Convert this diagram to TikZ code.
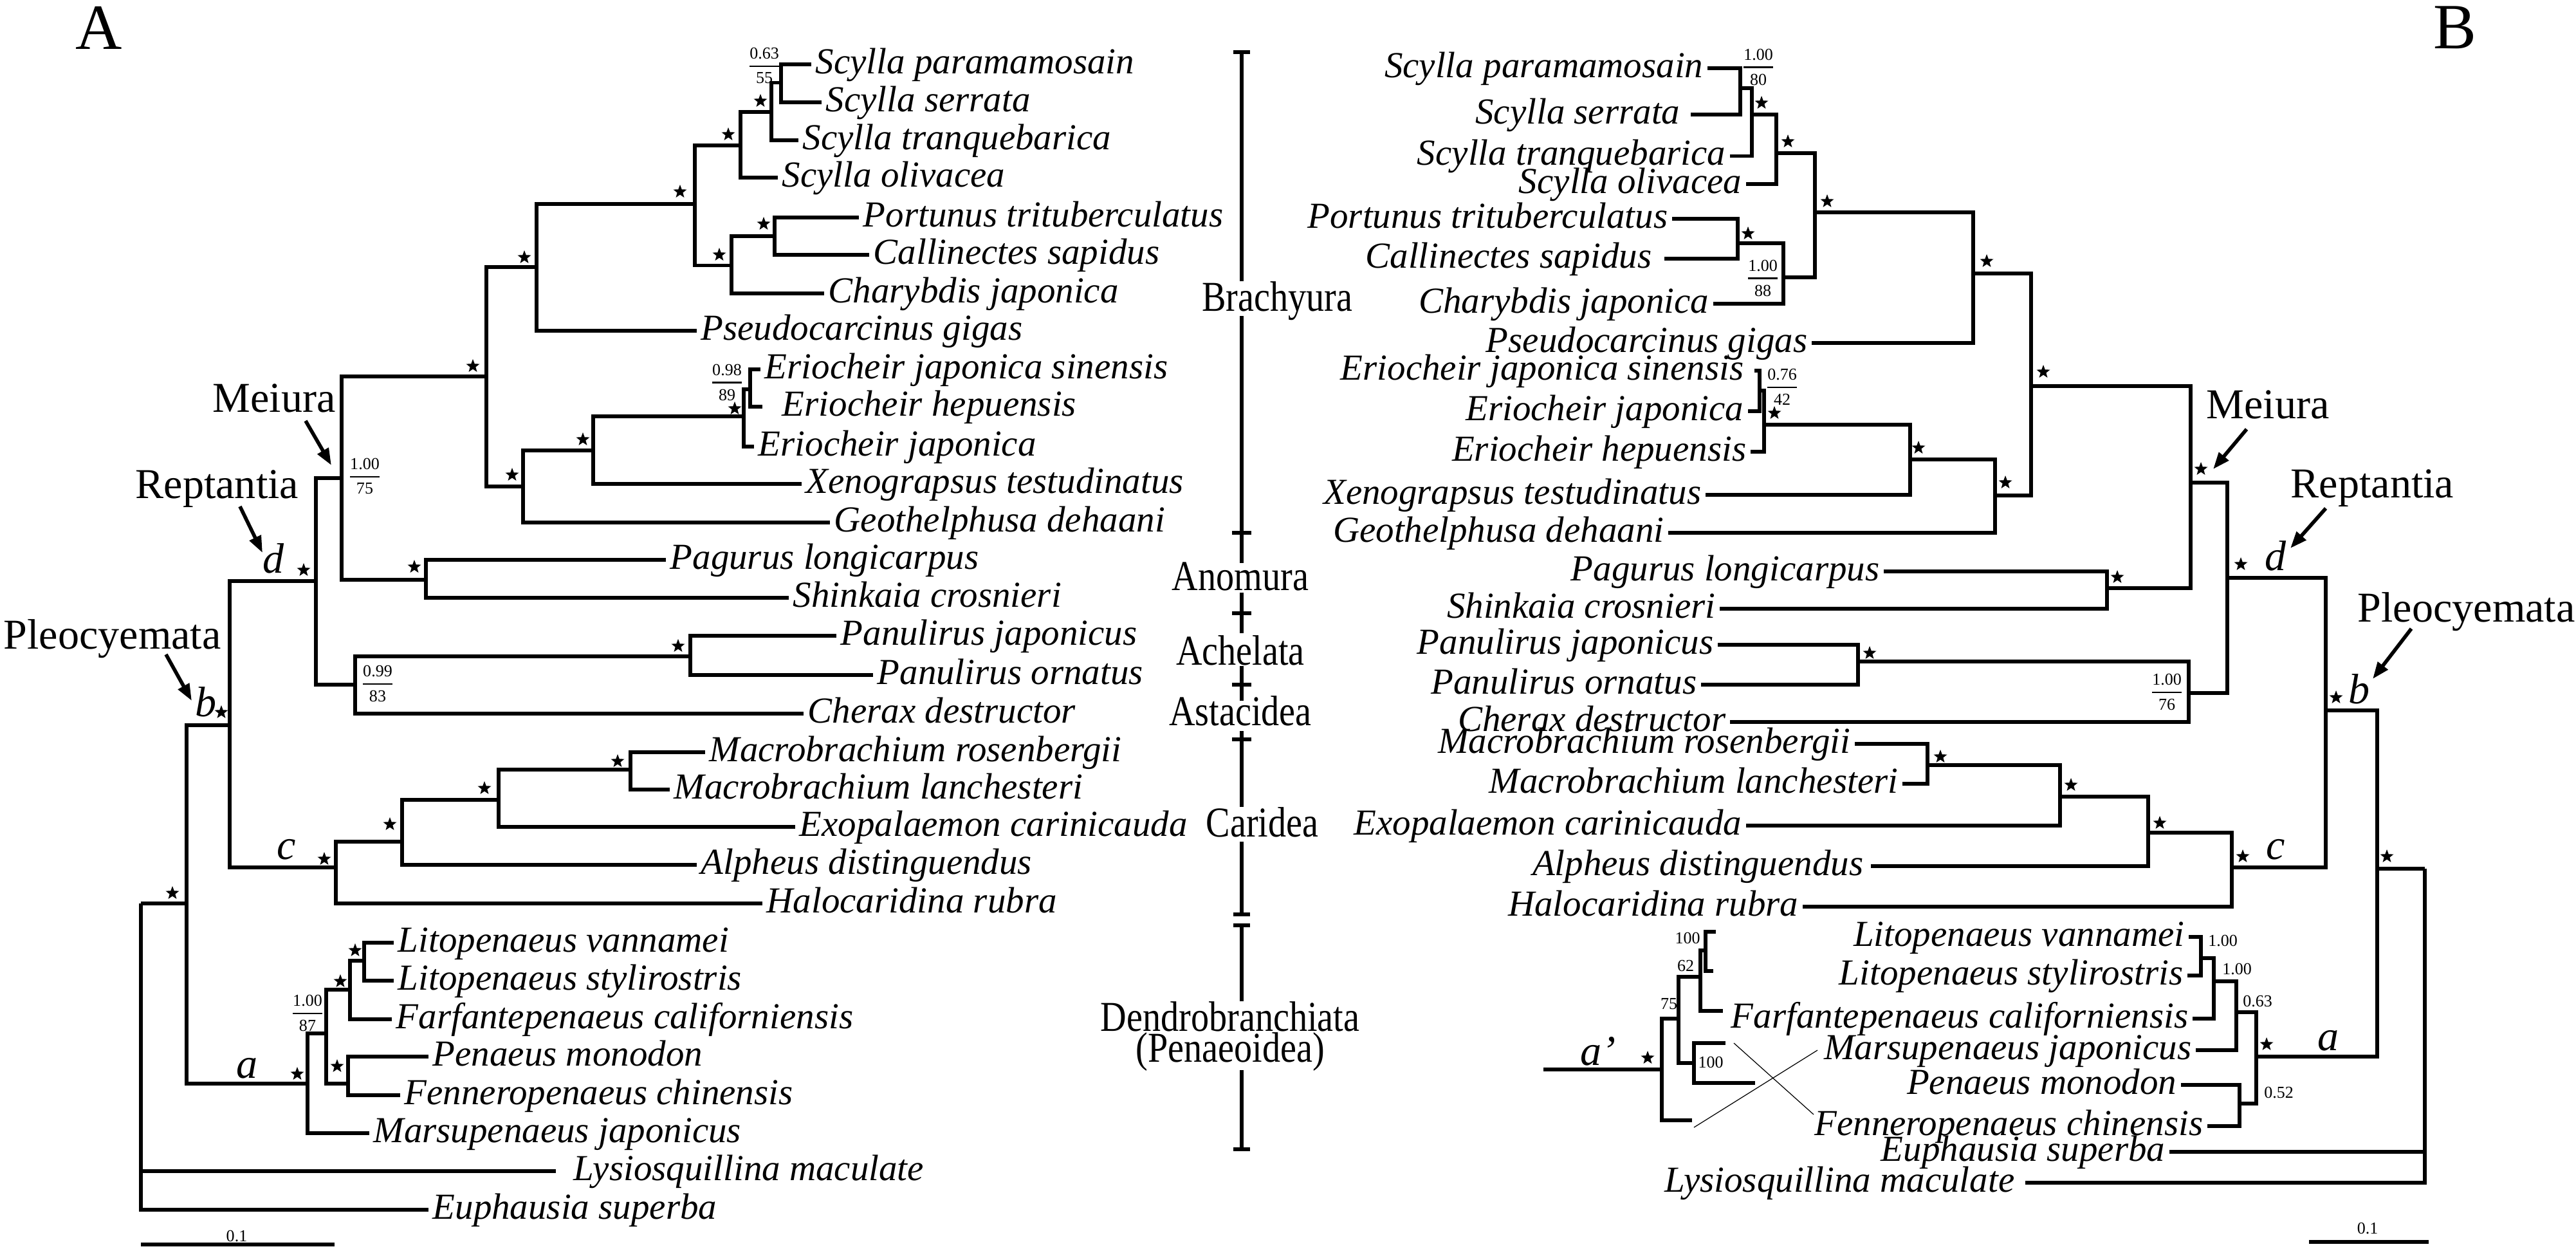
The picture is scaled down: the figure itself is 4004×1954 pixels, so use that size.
\documentclass[tikz,border=0pt]{standalone}
\usepackage{amsmath}
\usepackage{fontspec}
\setmainfont{Liberation Serif}
\newfontfamily\CondFam[FakeStretch=0.85]{Liberation Serif}
\usetikzlibrary{shapes.geometric,arrows.meta}
\newcommand{\SpF}{\fontsize{16.2pt}{18pt}\selectfont\itshape}
\newcommand{\ClF}{\fontsize{18.8pt}{20pt}\selectfont}
\newcommand{\GrF}{\CondFam\fontsize{18.8pt}{13.7pt}\selectfont}
\newcommand{\PanF}{\fontsize{28.5pt}{30pt}\selectfont}
\newcommand{\NumF}{\fontsize{7.4pt}{8pt}\selectfont}
\newcommand{\Fr}[2]{$\genfrac{}{}{0.8pt}{0}{\mbox{#1}}{\mbox{#2}}$}
\tikzset{
 br/.style={line width=1.5pt},
 thinl/.style={line width=0.35pt},
 lfL/.style={anchor=west, font=\SpF, inner xsep=0.06cm, inner ysep=0pt, text height=0.34cm, text depth=0.06cm},
 lfR/.style={anchor=east, font=\SpF, inner xsep=0.06cm, inner ysep=0pt, text height=0.34cm, text depth=0.06cm},
 strm/.style={star, star points=5, star point ratio=2.4, fill=black, inner sep=0pt, minimum size=0.22cm},
 clade/.style={anchor=base west, font=\ClF, inner sep=0pt},
 grp/.style={anchor=base, font=\GrF, inner sep=0pt, align=center},
 ltr/.style={anchor=base west, font=\ClF\itshape, inner sep=0pt},
 numlab/.style={font=\NumF, inner sep=0pt},
 arr/.style={line width=1.6pt, -{Triangle[length=0.26cm,width=0.19cm]}},
}
\begin{document}
\begin{tikzpicture}[x=0.01cm, y=-0.01cm]
\useasboundingbox (0,0) rectangle (4004,1954);
% panel labels
\node[anchor=base west, font=\PanF, inner sep=0pt] (pA) at (117,76) {A};
\node[anchor=base west, font=\PanF, inner sep=0pt] (pB) at (3782,75) {B};

% ================= TREE A =================
\node[lfL] (a1) at (1261,100) {Scylla paramamosain};
\node[lfL] (a2) at (1277,159) {Scylla serrata};
\node[lfL] (a3) at (1241,218) {Scylla tranquebarica};
\node[lfL] (a4) at (1209,276) {Scylla olivacea};
\node[lfL] (a5) at (1335,338) {Portunus trituberculatus};
\node[lfL] (a6) at (1351,396) {Callinectes sapidus};
\node[lfL] (a7) at (1281,456) {Charybdis japonica};
\node[lfL] (a8) at (1083,514) {Pseudocarcinus gigas};
\node[lfL] (a9) at (1182,574) {Eriocheir japonica sinensis};
\node[lfL, inner xsep=0.3cm] (a10) at (1185,632) {Eriocheir hepuensis};
\node[lfL] (a11) at (1172,694) {Eriocheir japonica};
\node[lfL] (a12) at (1246,752) {Xenograpsus testudinatus};
\node[lfL] (a13) at (1290,812) {Geothelphusa dehaani};
\node[lfL] (a14) at (1035,870) {Pagurus longicarpus};
\node[lfL] (a15) at (1226,929) {Shinkaia crosnieri};
\node[lfL] (a16) at (1300,988) {Panulirus japonicus};
\node[lfL] (a17) at (1357,1049) {Panulirus ornatus};
\node[lfL] (a18) at (1249,1109) {Cherax destructor};
\node[lfL] (a19) at (1096,1169) {Macrobrachium rosenbergii};
\node[lfL] (a20) at (1041,1227) {Macrobrachium lanchesteri};
\node[lfL] (a21) at (1236,1285) {Exopalaemon carinicauda};
\node[lfL] (a22) at (1083,1344) {Alpheus distinguendus};
\node[lfL] (a23) at (1185,1404) {Halocaridina rubra};
\node[lfL] (a24) at (612,1465) {Litopenaeus vannamei};
\node[lfL] (a25) at (612,1524) {Litopenaeus stylirostris};
\node[lfL] (a26) at (609,1584) {Farfantepenaeus californiensis};
\node[lfL] (a27) at (666,1642) {Penaeus monodon};
\node[lfL] (a28) at (622,1702) {Fenneropenaeus chinensis};
\node[lfL] (a29) at (574,1761) {Marsupenaeus japonicus};
\node[lfL, inner xsep=0.27cm] (a30) at (864,1820) {Lysiosquillina maculate};
\node[lfL] (a31) at (666,1880) {Euphausia superba};

\coordinate (aSS) at (1214,128.5);
\coordinate (aS3) at (1199,174);
\coordinate (aS4) at (1151,226);
\coordinate (aPC) at (1204,367);
\coordinate (aPCC) at (1137,412.5);
\coordinate (aPort) at (1080,317);
\coordinate (aBr1) at (834,415);
\coordinate (aEsh) at (1166,605);
\coordinate (aEri) at (1156,647);
\coordinate (aEX) at (922,700);
\coordinate (aEXG) at (813,756);
\coordinate (aBra) at (756,585);
\coordinate (aAno) at (662,901);
\coordinate (aMei) at (531,743);
\coordinate (aPan) at (1073,1020);
\coordinate (aAA) at (552,1064);
\coordinate (aRep) at (491,903);
\coordinate (aMac) at (980,1196);
\coordinate (aMacE) at (775,1243);
\coordinate (aMEA) at (625,1308);
\coordinate (aCar) at (522,1348);
\coordinate (aPle) at (357,1127);
\coordinate (aLit) at (566,1493);
\coordinate (aLitF) at (544,1538);
\coordinate (aPF) at (541,1684);
\coordinate (aPen5) at (507,1606);
\coordinate (aPen) at (478,1684);
\coordinate (aDec) at (290,1404);
\coordinate (aRoot) at (219,1404);

\draw[br] (aSS) |- (a1.west) (aSS) |- (a2.west)
 (aS3) |- (aSS) (aS3) |- (a3.west)
 (aS4) |- (aS3) (aS4) |- (a4.west)
 (aPC) |- (a5.west) (aPC) |- (a6.west)
 (aPCC) |- (aPC) (aPCC) |- (a7.west)
 (aPort) |- (aS4) (aPort) |- (aPCC)
 (aBr1) |- (aPort) (aBr1) |- (a8.west)
 (aEsh) |- (a9.west) (aEsh) |- (a10.west)
 (aEri) |- (aEsh) (aEri) |- (a11.west)
 (aEX) |- (aEri) (aEX) |- (a12.west)
 (aEXG) |- (aEX) (aEXG) |- (a13.west)
 (aBra) |- (aBr1) (aBra) |- (aEXG)
 (aAno) |- (a14.west) (aAno) |- (a15.west)
 (aMei) |- (aBra) (aMei) |- (aAno)
 (aPan) |- (a16.west) (aPan) |- (a17.west)
 (aAA) |- (aPan) (aAA) |- (a18.west)
 (aRep) |- (aMei) (aRep) |- (aAA)
 (aMac) |- (a19.west) (aMac) |- (a20.west)
 (aMacE) |- (aMac) (aMacE) |- (a21.west)
 (aMEA) |- (aMacE) (aMEA) |- (a22.west)
 (aCar) |- (aMEA) (aCar) |- (a23.west)
 (aPle) |- (aRep) (aPle) |- (aCar)
 (aLit) |- (a24.west) (aLit) |- (a25.west)
 (aLitF) |- (aLit) (aLitF) |- (a26.west)
 (aPF) |- (a27.west) (aPF) |- (a28.west)
 (aPen5) |- (aLitF) (aPen5) |- (aPF)
 (aPen) |- (aPen5) (aPen) |- (a29.west)
 (aDec) |- (aPle) (aDec) |- (aPen)
 (aRoot) -- (aDec) (aRoot) |- (a30.west) (aRoot) |- (a31.west);

% stars A
\node[strm] (sa1) at (1182,157) {};
\node[strm] (sa2) at (1132,209) {};
\node[strm] (sa3) at (1057,298) {};
\node[strm] (sa4) at (1187,348) {};
\node[strm] (sa5) at (1118,396) {};
\node[strm] (sa6) at (815,400) {};
\node[strm] (sa7) at (735,569) {};
\node[strm] (sa8) at (1142,635) {};
\node[strm] (sa9) at (906,683) {};
\node[strm] (sa10) at (796,738) {};
\node[strm] (sa11) at (644,881) {};
\node[strm] (sa12) at (1054,1004) {};
\node[strm] (sa13) at (472,886) {};
\node[strm] (sa14) at (344,1107) {};
\node[strm] (sa15) at (960,1183) {};
\node[strm] (sa16) at (753,1225) {};
\node[strm] (sa17) at (606,1281) {};
\node[strm] (sa18) at (504,1335) {};
\node[strm] (sa19) at (268,1388) {};
\node[strm] (sa20) at (552,1477) {};
\node[strm] (sa21) at (529,1525) {};
\node[strm] (sa22) at (524,1657) {};
\node[strm] (sa23) at (462,1669) {};

% support values A
\node[numlab] (f1) at (1188,102) {\Fr{0.63}{55}};
\node[numlab] (f2) at (1130,594) {\Fr{0.98}{89}};
\node[numlab] (f3) at (567,740) {\Fr{1.00}{75}};
\node[numlab] (f4) at (587,1062) {\Fr{0.99}{83}};
\node[numlab] (f5) at (478,1574) {\Fr{1.00}{87}};

% clade names and node letters A
\node[clade] (lMeiA) at (330,640) {Meiura};
\node[clade] (lRepA) at (210,774) {Reptantia};
\node[clade] (lPleA) at (5,1008) {Pleocyemata};
\node[ltr] (ldA) at (408,890) {d};
\node[ltr] (lbA) at (303,1113) {b};
\node[ltr] (lcA) at (430,1335) {c};
\node[ltr] (laA) at (367,1675) {a};
\coordinate (mA1) at (475,654); \coordinate (mA2) at (515,723);
\coordinate (rA1) at (373,787); \coordinate (rA2) at (408,859);
\coordinate (pA1) at (258,1017); \coordinate (pA2) at (298,1089);
\draw[arr] (mA1) -- (mA2);
\draw[arr] (rA1) -- (rA2);
\draw[arr] (pA1) -- (pA2);

% scale bar A
\coordinate (scA1) at (219,1934); \coordinate (scA2) at (520,1934);
\draw[br] (scA1) -- (scA2);
\node[numlab] (scAl) at (368,1921) {0.1};

% ================= MIDDLE BRACKETS =================
\draw[br] (1917,81) -- (1943,81) (1930,81) -- (1930,437);
\draw[br] (1930,491) -- (1930,875) (1915,828) -- (1945,828);
\draw[br] (1930,921) -- (1930,984) (1915,953) -- (1945,953);
\draw[br] (1930,1035) -- (1930,1089) (1915,1064) -- (1945,1064);
\draw[br] (1930,1136) -- (1930,1254) (1915,1149) -- (1945,1149);
\draw[br] (1930,1308) -- (1930,1421) (1917,1421) -- (1943,1421);
\draw[br] (1917,1438) -- (1943,1438) (1930,1438) -- (1930,1556);
\draw[br] (1930,1663) -- (1930,1786) (1917,1786) -- (1943,1786);
\node[grp] (gBr) at (1985,483) {Brachyura};
\node[grp] (gAn) at (1928,917) {Anomura};
\node[grp] (gAc) at (1928,1033) {Achelata};
\node[grp] (gAs) at (1928,1127) {Astacidea};
\node[grp] (gCa) at (1962,1300) {Caridea};
\node[grp, anchor=north] (gDe) at (1912,1556) {Dendrobranchiata\\(Penaeoidea)};

% ================= TREE B =================
\node[lfR] (b1) at (2654,106) {Scylla paramamosain};
\node[lfR, inner xsep=0.16cm] (b2) at (2628,178) {Scylla serrata};
\node[lfR] (b3) at (2689,242.5) {Scylla tranquebarica};
\node[lfR] (b4) at (2714,286) {Scylla olivacea};
\node[lfR] (b5) at (2599,340) {Portunus trituberculatus};
\node[lfR, inner xsep=0.19cm] (b6) at (2587,402) {Callinectes sapidus};
\node[lfR] (b7) at (2663,472) {Charybdis japonica};
\node[lfR] (b8) at (2816,533) {Pseudocarcinus gigas};
\node[lfR, inner xsep=0.16cm] (b9) at (2727,576) {Eriocheir japonica sinensis};
\node[lfR] (b10) at (2717,639) {Eriocheir japonica};
\node[lfR] (b11) at (2721,702) {Eriocheir hepuensis};
\node[lfR] (b12) at (2651,769) {Xenograpsus testudinatus};
\node[lfR] (b13) at (2593,828) {Geothelphusa dehaani};
\node[lfR] (b14) at (2928,888) {Pagurus longicarpus};
\node[lfR] (b15) at (2673,946) {Shinkaia crosnieri};
\node[lfR] (b16) at (2670,1002) {Panulirus japonicus};
\node[lfR] (b17) at (2644,1064) {Panulirus ornatus};
\node[lfR] (b18) at (2689,1122) {Cherax destructor};
\node[lfR] (b19) at (2883,1156) {Macrobrachium rosenbergii};
\node[lfR] (b20) at (2957,1218) {Macrobrachium lanchesteri};
\node[lfR] (b21) at (2714,1283) {Exopalaemon carinicauda};
\node[lfR, inner xsep=0.11cm] (b22) at (2908,1346) {Alpheus distinguendus};
\node[lfR] (b23) at (2802,1409) {Halocaridina rubra};
\node[lfR] (b24) at (3402,1456) {Litopenaeus vannamei};
\node[lfR] (b25) at (3400,1516) {Litopenaeus stylirostris};
\node[lfR] (b26) at (3408,1583) {Farfantepenaeus californiensis};
\node[lfR] (b27) at (3413,1632) {Marsupenaeus japonicus};
\node[lfR] (b28) at (3390,1686) {Penaeus monodon};
\node[lfR] (b29) at (3431,1750) {Fenneropenaeus chinensis};
\node[lfR] (b30) at (3372,1790) {Euphausia superba};
\node[lfR, inner xsep=0.16cm] (b31) at (3148,1838) {Lysiosquillina maculate};

\coordinate (bSS) at (2705,137);
\coordinate (bS3) at (2723,178);
\coordinate (bS4) at (2761,238);
\coordinate (bPC) at (2701,378);
\coordinate (bPCC) at (2772,431);
\coordinate (bPort) at (2821,330);
\coordinate (bBr1) at (3067,425);
\coordinate (bE1) at (2735,607);
\coordinate (bE2) at (2742,660);
\coordinate (bEX) at (2969,714);
\coordinate (bEXG) at (3101,770);
\coordinate (bBra) at (3157,600);
\coordinate (bAno) at (3275,914);
\coordinate (bMei) at (3405,750);
\coordinate (bPan) at (2888,1028);
\coordinate (bAA) at (3402,1077);
\coordinate (bRep) at (3462,898);
\coordinate (bMac) at (2996,1189);
\coordinate (bMacE) at (3202,1238);
\coordinate (bMEA) at (3339,1294);
\coordinate (bCar) at (3469,1348);
\coordinate (bPle) at (3615,1104);
\coordinate (bLit) at (3421,1489);
\coordinate (bLitF) at (3441,1525);
\coordinate (bLFM) at (3476,1573);
\coordinate (bPF) at (3481,1715);
\coordinate (bPen) at (3507,1642);
\coordinate (bDec) at (3695,1350);
\coordinate (bRoot) at (3769,1350);

\draw[br] (bSS) |- (b1.east) (bSS) |- (b2.east)
 (bS3) |- (bSS) (bS3) |- (b3.east)
 (bS4) |- (bS3) (bS4) |- (b4.east)
 (bPC) |- (b5.east) (bPC) |- (b6.east)
 (bPCC) |- (bPC) (bPCC) |- (b7.east)
 (bPort) |- (bS4) (bPort) |- (bPCC)
 (bBr1) |- (bPort) (bBr1) |- (b8.east)
 (bE1) |- (b9.east) (bE1) |- (b10.east)
 (bE2) |- (bE1) (bE2) |- (b11.east)
 (bEX) |- (bE2) (bEX) |- (b12.east)
 (bEXG) |- (bEX) (bEXG) |- (b13.east)
 (bBra) |- (bBr1) (bBra) |- (bEXG)
 (bAno) |- (b14.east) (bAno) |- (b15.east)
 (bMei) |- (bBra) (bMei) |- (bAno)
 (bPan) |- (b16.east) (bPan) |- (b17.east)
 (bAA) |- (bPan) (bAA) |- (b18.east)
 (bRep) |- (bMei) (bRep) |- (bAA)
 (bMac) |- (b19.east) (bMac) |- (b20.east)
 (bMacE) |- (bMac) (bMacE) |- (b21.east)
 (bMEA) |- (bMacE) (bMEA) |- (b22.east)
 (bCar) |- (bMEA) (bCar) |- (b23.east)
 (bPle) |- (bRep) (bPle) |- (bCar)
 (bLit) |- (b24.east) (bLit) |- (b25.east)
 (bLitF) |- (bLit) (bLitF) |- (b26.east)
 (bLFM) |- (bLitF) (bLFM) |- (b27.east)
 (bPF) |- (b28.east) (bPF) |- (b29.east)
 (bPen) |- (bLFM) (bPen) |- (bPF)
 (bDec) |- (bPle) (bDec) |- (bPen)
 (bRoot) -- (bDec) (bRoot) |- (b30.east) (bRoot) |- (b31.east);

% a' sub-tree
\coordinate (cStem) at (2399,1662);
\coordinate (cN1) at (2583,1662);
\coordinate (cN2) at (2609,1583);
\coordinate (cN3) at (2643,1518);
\coordinate (cN4) at (2651,1477);
\coordinate (cN5) at (2633,1652);
\coordinate (cL1) at (2667,1448);
\coordinate (cL2) at (2663,1509);
\coordinate (cL3) at (2678,1571);
\coordinate (cL4) at (2682,1621);
\coordinate (cL5) at (2728,1683);
\coordinate (cL6) at (2630,1741);
\draw[br] (cStem) -- (cN1)
 (cN1) |- (cN2) (cN1) |- (cL6)
 (cN2) |- (cN3) (cN2) |- (cN5)
 (cN3) |- (cN4) (cN3) |- (cL3)
 (cN4) |- (cL1) (cN4) |- (cL2)
 (cN5) |- (cL4) (cN5) |- (cL5);
\coordinate (cx1) at (2695,1621); \coordinate (cx2) at (2819,1732);
\coordinate (cx3) at (2633,1752); \coordinate (cx4) at (2825,1632);
\draw[thinl] (cx1) -- (cx2) (cx3) -- (cx4);

% stars B
\node[strm] (sb1) at (2738,160) {};
\node[strm] (sb2) at (2779,220) {};
\node[strm] (sb3) at (2840,313) {};
\node[strm] (sb4) at (2717,363) {};
\node[strm] (sb5) at (3088,406) {};
\node[strm] (sb6) at (3176,578) {};
\node[strm] (sb7) at (2758,642) {};
\node[strm] (sb8) at (2982,696) {};
\node[strm] (sb9) at (3117,750) {};
\node[strm] (sb10) at (3291,897) {};
\node[strm] (sb11) at (3421,729) {};
\node[strm] (sb12) at (2906,1015) {};
\node[strm] (sb13) at (3483,877) {};
\node[strm] (sb14) at (3016,1176) {};
\node[strm] (sb15) at (3219,1220) {};
\node[strm] (sb16) at (3357,1279) {};
\node[strm] (sb17) at (3486,1331) {};
\node[strm] (sb18) at (3631,1084) {};
\node[strm] (sb19) at (3710,1331) {};
\node[strm] (sb20) at (3523,1623) {};
\node[strm] (sb21) at (2561,1644) {};

% support values B
\node[numlab] (f6) at (2733,104) {\Fr{1.00}{80}};
\node[numlab] (f7) at (2740,432) {\Fr{1.00}{88}};
\node[numlab] (f8) at (2770,601) {\Fr{0.76}{42}};
\node[numlab] (f9) at (3368,1075) {\Fr{1.00}{76}};
\node[numlab] (n1) at (3455,1462) {1.00};
\node[numlab] (n2) at (3477,1506) {1.00};
\node[numlab] (n3) at (3509,1556) {0.63};
\node[numlab] (n4) at (3542,1698) {0.52};
\node[numlab] (n5) at (2623,1458) {100};
\node[numlab] (n6) at (2620,1501) {62};
\node[numlab] (n7) at (2594,1560) {75};
\node[numlab] (n8) at (2659,1651) {100};

% clade names and node letters B
\node[clade] (lMeiB) at (3429,650) {Meiura};
\node[clade] (lRepB) at (3560,773) {Reptantia};
\node[clade] (lPleB) at (3664,966) {Pleocyemata};
\node[ltr] (ldB) at (3520,886) {d};
\node[ltr] (lbB) at (3650,1093) {b};
\node[ltr] (lcB) at (3522,1335) {c};
\node[ltr] (laB) at (3602,1632) {a};
\node[ltr] (lapB) at (2456,1655) {a'};
\coordinate (mB1) at (3492,667); \coordinate (mB2) at (3440,729);
\coordinate (rB1) at (3615,790); \coordinate (rB2) at (3560,852);
\coordinate (pB1) at (3748,977); \coordinate (pB2) at (3688,1055);
\draw[arr] (mB1) -- (mB2);
\draw[arr] (rB1) -- (rB2);
\draw[arr] (pB1) -- (pB2);

% scale bar B
\coordinate (scB1) at (3589,1930); \coordinate (scB2) at (3775,1930);
\draw[br] (scB1) -- (scB2);
\node[numlab] (scBl) at (3680,1909) {0.1};
\end{tikzpicture}
\end{document}
